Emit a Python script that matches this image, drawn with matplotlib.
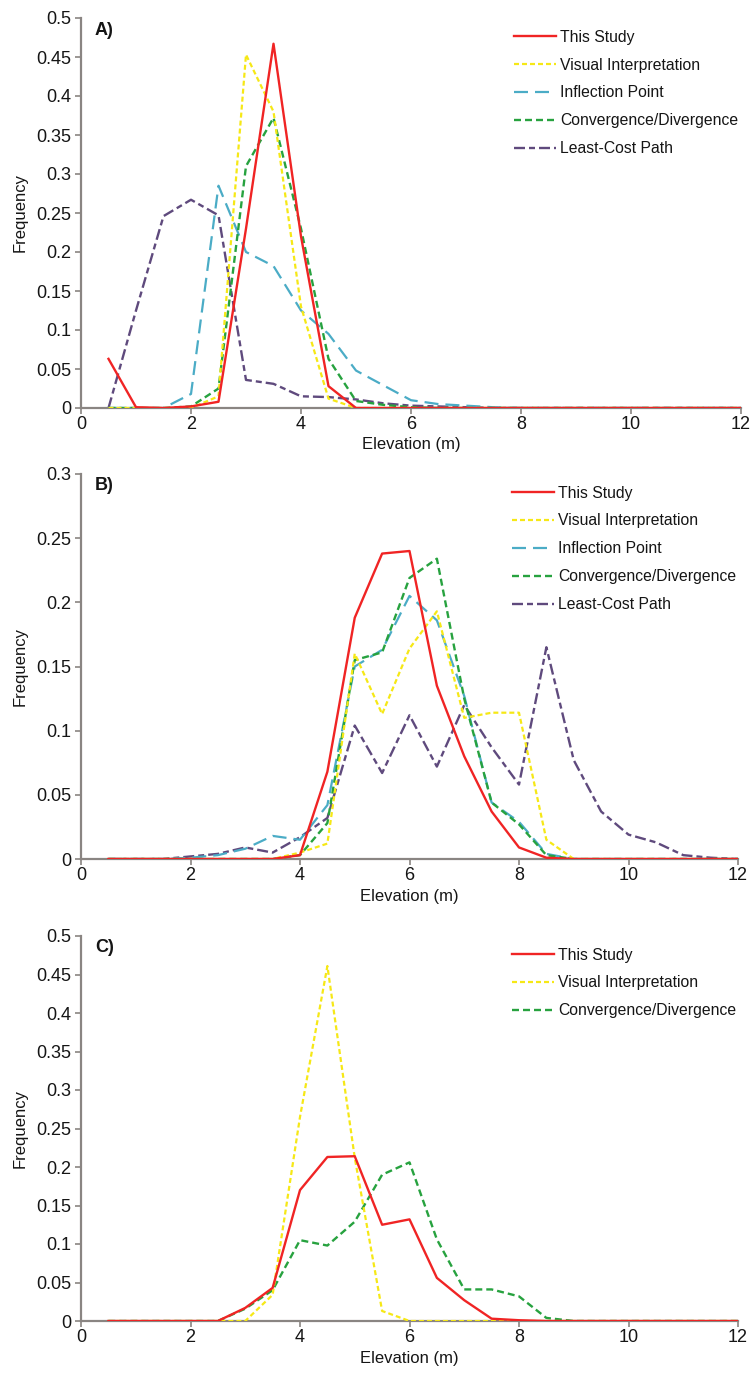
import matplotlib
matplotlib.use("Agg")
import matplotlib.pyplot as plt
import numpy as np

plt.rcParams['font.family'] = ['Liberation Sans', 'DejaVu Sans']
plt.rcParams['lines.scale_dashes'] = False

elev = [0.5, 1.0, 1.5, 2.0, 2.5, 3.0, 3.5, 4.0, 4.5, 5.0, 5.5, 6.0, 6.5, 7.0, 7.5, 8.0,
        8.5, 9.0, 9.5, 10.0, 10.5, 11.0, 11.5, 12.0]

# Panel A
a_this = [0.063, 0.001, 0.0, 0.002, 0.008, 0.23, 0.467, 0.22, 0.028, 0.0, 0, 0, 0, 0, 0, 0, 0, 0, 0, 0, 0, 0, 0, 0]
a_visual = [0, 0, 0, 0, 0.015, 0.453, 0.38, 0.13, 0.012, 0.0, 0, 0, 0, 0, 0, 0, 0, 0, 0, 0, 0, 0, 0, 0]
a_inflect = [0, 0, 0, 0.018, 0.285, 0.2, 0.182, 0.125, 0.095, 0.048, 0.029, 0.010, 0.005, 0.003, 0.001, 0, 0, 0, 0, 0, 0, 0, 0, 0]
a_conv = [0, 0, 0, 0.002, 0.025, 0.31, 0.372, 0.23, 0.063, 0.009, 0.004, 0.001, 0, 0, 0, 0, 0, 0, 0, 0, 0, 0, 0, 0]
a_lcp = [0.0, 0.125, 0.246, 0.267, 0.247, 0.036, 0.031, 0.015, 0.014, 0.011, 0.006, 0.003, 0.002, 0.001, 0, 0, 0, 0, 0, 0, 0, 0, 0, 0]

# Panel B
b_this = [0, 0, 0, 0, 0, 0, 0, 0.003, 0.068, 0.188, 0.238, 0.24, 0.135, 0.08, 0.037, 0.009, 0.001, 0, 0, 0, 0, 0, 0, 0]
b_visual = [0, 0, 0, 0, 0, 0, 0, 0.005, 0.012, 0.16, 0.113, 0.164, 0.193, 0.11, 0.114, 0.114, 0.015, 0, 0, 0, 0, 0, 0, 0]
b_inflect = [0, 0, 0, 0.001, 0.003, 0.008, 0.018, 0.015, 0.042, 0.15, 0.163, 0.205, 0.186, 0.127, 0.044, 0.029, 0.004, 0, 0, 0, 0, 0, 0, 0]
b_conv = [0, 0, 0, 0, 0, 0, 0, 0.003, 0.028, 0.155, 0.161, 0.219, 0.234, 0.125, 0.044, 0.027, 0.003, 0, 0, 0, 0, 0, 0, 0]
b_lcp = [0, 0, 0, 0.002, 0.004, 0.009, 0.005, 0.017, 0.032, 0.104, 0.067, 0.112, 0.072, 0.12, 0.087, 0.058, 0.165, 0.077, 0.037, 0.019, 0.013, 0.003, 0.001, 0]

# Panel C
c_this = [0, 0, 0, 0, 0, 0.017, 0.043, 0.17, 0.213, 0.214, 0.125, 0.132, 0.056, 0.027, 0.003, 0.001, 0, 0, 0, 0, 0, 0, 0, 0]
c_visual = [0, 0, 0, 0, 0, 0, 0.034, 0.265, 0.461, 0.212, 0.013, 0, 0, 0, 0, 0, 0, 0, 0, 0, 0, 0, 0, 0]
c_conv = [0, 0, 0, 0, 0, 0.016, 0.04, 0.105, 0.098, 0.129, 0.19, 0.206, 0.106, 0.041, 0.041, 0.032, 0.004, 0, 0, 0, 0, 0, 0, 0]

labels = ["This Study", "Visual Interpretation", "Inflection Point",
          "Convergence/Divergence", "Least-Cost Path"]

px = 0.72  # points per pixel at dpi 100
styles = {
    "This Study": dict(color='#f02424', lw=1.7, linestyle='-', zorder=6),
    "Visual Interpretation": dict(color='#f6e816', lw=1.6, linestyle=(0, (5 * px, 3 * px)), zorder=5),
    "Inflection Point": dict(color='#4bacc6', lw=1.6, linestyle=(0, (14 * px, 7 * px)), zorder=3),
    "Convergence/Divergence": dict(color='#27a23f', lw=1.7, linestyle=(0, (7 * px, 4 * px)), zorder=4),
    "Least-Cost Path": dict(color='#5f4a7d', lw=1.7, linestyle=(0, (11 * px, 4 * px, 6 * px, 4 * px)), zorder=2),
}

W, H = 756, 1374
fig = plt.figure(figsize=(W / 100, H / 100), dpi=100)

panels = [
    ("A)", [a_this, a_visual, a_inflect, a_conv, a_lcp], labels, 0.5, (81, 741, 18, 408)),
    ("B)", [b_this, b_visual, b_inflect, b_conv, b_lcp], labels, 0.3, (81, 738, 474, 859)),
    ("C)", [c_this, c_visual, c_conv], [labels[0], labels[1], labels[3]], 0.5, (81, 738, 936, 1321)),
]

axis_col = '#8a8582'
txt_col = '#151515'
for tag, series, labs, ymax, (l, r, t, b) in panels:
    ax = fig.add_axes([l / W, 1 - b / H, (r - l) / W, (b - t) / H])
    for vals, lab in zip(series, labs):
        ax.plot(elev, vals, label=lab, **styles[lab])
    ax.set_xlim(0, 12)
    ax.set_ylim(0, ymax)
    ax.set_xticks(np.arange(0, 13, 2))
    yt = np.arange(0, ymax + 1e-9, 0.05)
    ax.set_yticks(yt)
    ax.set_yticklabels(['0' if v == 0 else ('%g' % round(v, 2)) for v in yt])
    for s in ['top', 'right']:
        ax.spines[s].set_visible(False)
    for s in ['left', 'bottom']:
        ax.spines[s].set_color(axis_col)
        ax.spines[s].set_linewidth(1.6)
    ax.tick_params(axis='both', colors=axis_col, labelcolor=txt_col, labelsize=13,
                   length=4, width=1.2, direction='out')
    ax.tick_params(axis='x', pad=2)
    ax.tick_params(axis='y', pad=3)
    ax.set_xlabel("Elevation (m)", fontsize=12, color=txt_col, labelpad=3)
    ax.set_ylabel("Frequency", fontsize=12, color=txt_col, labelpad=6)
    ax.text(0.021, 0.969, tag, transform=ax.transAxes, fontsize=13, fontweight='bold',
            ha='left', va='center', color=txt_col)
    leg = ax.legend(loc='upper left', bbox_to_anchor=(0.656, 0.97), frameon=False,
                    fontsize=11.3, borderpad=0, borderaxespad=0, handlelength=2.65,
                    handletextpad=0.3, labelspacing=0.82)
    for txt in leg.get_texts():
        txt.set_color(txt_col)

fig.savefig("out.png", dpi=100)
